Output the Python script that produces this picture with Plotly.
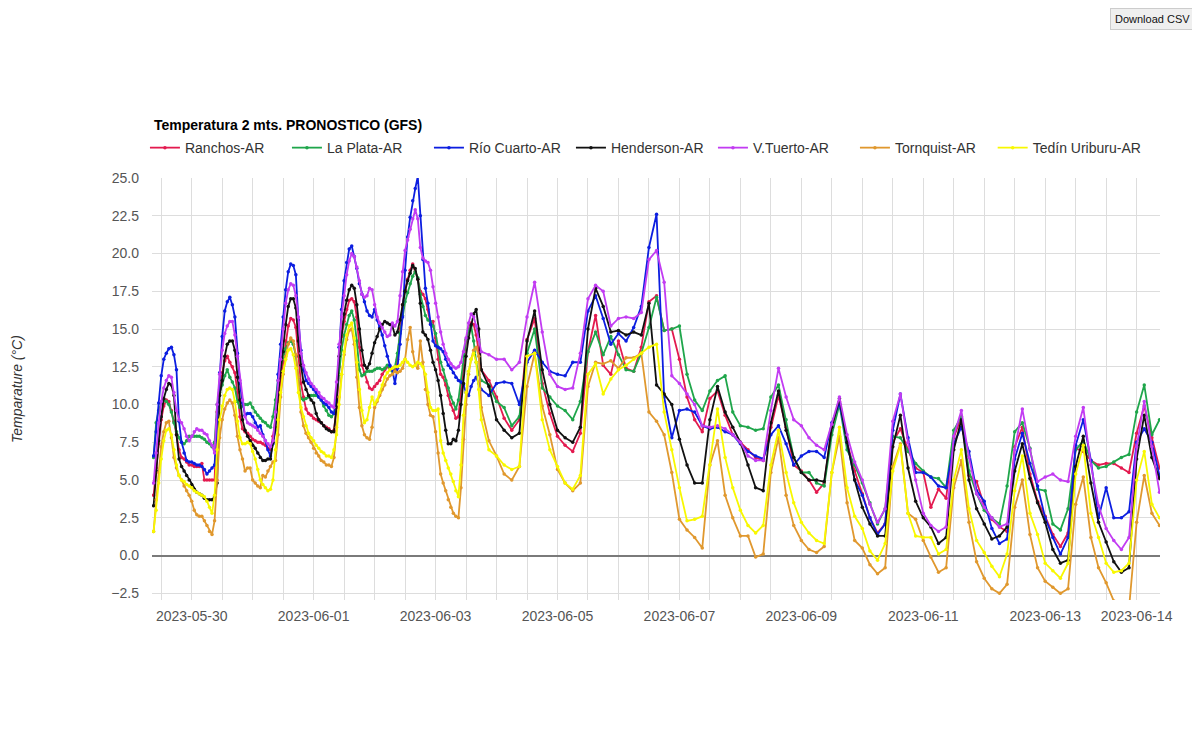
import plotly.graph_objects as go
import pandas as pd

# ---------------- data ----------------
start = pd.Timestamp("2023-05-29 09:00")
hours = list(range(0, 130)) + list(range(132, 397, 3))
times = [start + pd.Timedelta(hours=h) for h in hours]

series_names = ["Ranchos-AR", "La Plata-AR", "Río Cuarto-AR", "Henderson-AR",
                "V.Tuerto-AR", "Tornquist-AR", "Tedín Uriburu-AR"]
series_colors = ["#e31a4f", "#1fa64b", "#0c1ee0", "#111111",
                 "#c23cf2", "#e0982e", "#f8f800"]

# hourly part (t = 0..129 h)
ranchos_h = [4.0, 5.8, 7.4, 9.0, 9.9, 10.3, 10.2, 9.6, 8.9, 8.0,
             7.0, 6.5, 6.4, 6.2, 6.0, 6.0, 5.9, 5.9, 5.9, 6.1,
             5.0, 5.0, 5.0, 5.0, 5.0, 9.5, 11.0, 12.1, 12.9, 13.2,
             12.8, 12.5, 12.1, 10.8, 9.2, 8.4, 8.2, 8.1, 7.9, 7.7,
             7.6, 7.5, 7.5, 7.4, 7.3, 7.1, 7.0, 7.9, 9.0, 10.2,
             11.5, 12.8, 14.2, 15.2, 15.7, 15.6, 15.1, 13.2, 11.4, 10.5,
             9.7, 9.4, 9.3, 9.1, 9.0, 8.9, 8.8, 8.6, 8.5, 8.4,
             8.2, 8.3, 9.8, 12.5, 14.5, 15.5, 16.3, 16.9, 17.0, 16.8,
             15.8, 13.8, 12.6, 12.1, 11.5, 11.1, 11.0, 11.2, 11.4, 11.6,
             12.0, 12.3, 12.5, 12.5, 12.4, 12.3, 13.0, 15.0, 16.6, 17.6,
             18.3, 18.9, 19.3, 18.8, 18.3, 17.5, 17.3, 17.0, 16.3, 15.4,
             15.5, 14.4, 13.0, 12.0, 11.8, 11.3, 10.6, 10.0, 9.6, 9.1,
             9.2, 11.0, 12.6, 14.2, 15.0, 15.4, 15.3, 14.6, 13.5, 12.3]
laplata_h = [6.5, 8.8, 9.6, 10.1, 10.3, 10.2, 10.0, 9.5, 8.8, 8.2,
             7.8, 7.5, 7.4, 7.6, 7.9, 7.9, 7.9, 7.9, 7.9, 7.8,
             7.7, 7.5, 7.4, 7.2, 7.5, 10.0, 10.8, 11.3, 11.9, 12.3,
             11.8, 11.5, 11.1, 10.2, 9.8, 9.9, 10.0, 10.0, 10.1, 9.8,
             9.5, 9.3, 9.1, 8.9, 8.8, 8.6, 8.5, 9.2, 10.3, 11.6,
             12.5, 13.2, 13.7, 14.1, 14.2, 14.0, 13.2, 11.8, 10.4, 10.3,
             10.4, 10.5, 10.6, 10.6, 10.6, 10.5, 10.3, 9.9, 9.6, 9.3,
             9.2, 9.4, 10.5, 12.0, 13.6, 14.6, 15.3, 15.9, 16.2, 15.6,
             14.2, 12.3, 11.9, 12.0, 12.2, 12.2, 12.2, 12.3, 12.4, 12.4,
             12.3, 12.4, 12.6, 12.4, 12.2, 12.5, 13.4, 14.7, 15.9, 16.8,
             17.4, 18.0, 18.5, 18.8, 18.4, 17.3, 16.5, 15.9, 15.6, 15.5,
             15.2, 14.7, 13.8, 12.8, 12.3, 11.6, 11.1, 10.5, 10.1, 9.7,
             10.3, 11.6, 13.2, 14.3, 14.9, 15.2, 14.2, 12.8, 12.0, 11.6]
riocuarto_h = [6.6, 8.2, 10.1, 11.9, 13.0, 13.4, 13.7, 13.8, 13.3, 12.3,
               8.9, 7.5, 6.8, 6.3, 6.2, 6.2, 6.1, 6.0, 6.0, 5.9,
               5.7, 5.4, 5.6, 5.8, 6.0, 9.0, 12.1, 14.5, 16.2, 16.8,
               17.1, 16.6, 15.8, 13.4, 11.4, 10.1, 9.3, 9.4, 9.4, 9.2,
               8.8, 8.5, 8.6, 8.0, 7.6, 7.0, 6.6, 7.4, 8.3, 12.0,
               14.0, 15.8, 17.6, 18.8, 19.3, 19.2, 18.6, 15.6, 13.6, 12.3,
               11.6, 11.4, 11.2, 11.0, 10.8, 10.5, 10.3, 10.1, 10.0, 9.8,
               9.5, 9.4, 10.3, 13.8, 16.3, 18.2, 19.4, 20.3, 20.5, 19.8,
               19.0, 18.0, 17.3, 16.8, 16.2, 15.9, 15.8, 16.3, 15.6, 15.1,
               14.6, 13.9, 13.2, 12.6, 12.3, 11.4, 12.4, 14.0, 15.8, 18.9,
               21.1, 22.4, 23.5, 24.3, 25.1, 22.5, 19.6, 17.7, 16.7, 15.3,
               14.2, 13.9, 13.8, 13.7, 13.5, 13.0, 12.6, 12.4, 12.1, 11.8,
               11.6, 11.5, 11.3, 10.8, 10.6, 11.2, 11.6, 11.8, 11.4, 11.0]
henderson_h = [3.3, 5.6, 7.6, 9.2, 10.4, 11.0, 11.4, 11.3, 10.6, 8.0,
               6.4, 5.9, 5.6, 5.3, 5.0, 4.7, 4.4, 4.2, 4.1, 4.0,
               3.8, 3.7, 3.7, 3.7, 3.9, 4.8, 10.6, 11.6, 13.2, 14.0,
               14.2, 14.2, 13.6, 11.8, 10.3, 9.0, 8.3, 7.9, 7.6, 7.3,
               7.1, 6.8, 6.5, 6.3, 6.3, 6.4, 6.4, 7.5, 8.5, 10.6,
               12.2, 13.5, 15.3, 16.5, 17.0, 17.0, 16.4, 14.2, 12.6, 11.5,
               11.0, 10.6, 10.3, 10.1, 9.4, 9.0, 8.8, 8.6, 8.4, 8.3,
               8.2, 8.2, 9.8, 13.2, 14.8, 16.0, 16.9, 17.6, 17.9, 17.7,
               16.6, 15.0, 13.6, 12.6, 12.4, 12.7, 13.4, 14.1, 14.5, 15.0,
               15.3, 15.5, 15.4, 15.3, 15.2, 14.6, 14.8, 15.6, 16.6, 17.5,
               18.2, 18.7, 19.2, 19.0, 18.3, 16.7, 14.8, 14.6, 14.3, 13.6,
               12.8, 12.3, 11.6, 10.6, 9.4, 8.3, 7.4, 7.4, 7.7, 7.6,
               8.3, 10.0, 11.4, 13.2, 14.4, 15.3, 16.0, 16.3, 15.0, 12.3]
vtuerto_h = [4.8, 6.8, 8.8, 10.2, 11.1, 11.6, 11.9, 11.8, 10.8, 9.6,
             9.0, 8.8, 8.4, 7.9, 7.6, 7.9, 8.2, 8.4, 8.3, 8.3,
             8.1, 8.0, 7.6, 7.3, 6.8, 10.0, 12.0, 13.6, 14.7, 15.2,
             15.5, 15.5, 14.6, 13.2, 11.6, 10.3, 9.2, 8.8, 8.7, 8.6,
             8.5, 8.3, 8.1, 7.9, 7.6, 7.4, 7.2, 7.6, 9.5, 11.6,
             13.0, 15.0, 16.7, 17.6, 18.0, 17.9, 17.2, 15.8, 13.4, 12.6,
             12.1, 11.7, 11.4, 11.2, 11.0, 10.8, 10.5, 10.4, 10.2, 10.1,
             9.9, 9.8, 11.5, 14.0, 15.8, 17.2, 18.6, 19.5, 20.0, 19.8,
             19.1, 18.2, 17.3, 17.1, 17.2, 17.7, 17.6, 16.6, 15.8, 15.4,
             15.1, 14.8, 14.5, 14.6, 15.4, 15.2, 15.5, 17.2, 18.8, 20.2,
             20.9, 21.6, 22.3, 22.9, 22.3, 20.4, 19.7, 19.5, 19.4, 18.9,
             17.8, 16.7, 15.8, 14.8, 14.0, 13.4, 13.0, 12.7, 12.5, 12.4,
             12.5, 12.8, 13.5, 14.4, 15.4, 16.0, 15.8, 15.2, 14.3, 13.5]
tornquist_h = [1.6, 3.7, 5.5, 7.2, 8.2, 8.8, 8.9, 7.8, 6.5, 5.8,
               5.3, 5.0, 4.6, 4.3, 4.0, 3.6, 3.0, 2.7, 2.6, 2.6,
               2.3, 2.0, 1.6, 1.4, 2.3, 5.0, 7.8, 9.0, 9.7, 10.1,
               10.3, 10.1, 9.3, 7.9, 7.0, 6.4, 5.6, 5.8, 5.8, 5.0,
               4.8, 4.6, 4.5, 5.3, 5.2, 5.6, 5.9, 6.2, 6.3, 8.0,
               10.5, 12.0, 13.2, 14.0, 14.4, 14.2, 13.3, 11.8, 9.5, 8.6,
               8.1, 7.8, 7.5, 7.1, 6.8, 6.6, 6.3, 6.2, 6.0, 6.0,
               5.9, 6.5, 8.5, 10.5, 12.0, 13.3, 14.3, 14.9, 15.0, 14.0,
               11.8, 9.8, 8.6, 8.0, 7.8, 7.7, 8.5, 9.8, 10.2, 10.6,
               11.0, 11.3, 11.7, 11.9, 12.0, 12.2, 12.1, 12.2, 12.4, 13.0,
               14.3, 15.1, 13.5, 12.6, 12.4, 14.2, 12.8, 11.0, 10.0, 9.3,
               9.2, 8.2, 6.8, 5.4, 4.8, 4.3, 3.7, 3.2, 2.8, 2.6,
               2.5, 4.5, 7.7, 10.0, 12.0, 13.0, 13.6, 13.8, 13.2, 9.8]
tedin_h = [1.6, 3.0, 4.8, 6.4, 7.6, 8.3, 8.4, 8.0, 7.0, 6.0,
           5.3, 5.0, 4.9, 4.7, 4.6, 4.5, 4.3, 4.2, 4.1, 4.0,
           3.9, 3.6, 3.2, 2.8, 4.0, 7.0, 9.0, 9.9, 10.6, 11.0,
           11.1, 11.0, 10.2, 8.9, 7.8, 7.4, 7.4, 7.5, 7.4, 6.9,
           6.4, 5.7, 5.0, 4.7, 4.5, 4.3, 4.4, 5.0, 7.0, 9.0,
           10.8, 12.2, 13.0, 13.6, 13.7, 13.3, 12.4, 10.8, 9.8, 9.2,
           8.6, 8.1, 7.8, 7.6, 7.3, 7.1, 6.9, 6.8, 6.6, 6.6,
           6.5, 7.0, 8.0, 10.0, 12.0, 13.5, 14.6, 15.2, 15.4, 14.4,
           12.8, 11.0, 9.6, 8.8, 9.0, 9.8, 10.5, 10.0, 10.3, 10.8,
           11.3, 11.8, 12.1, 12.3, 12.4, 12.5, 12.5, 12.6, 12.8, 13.0,
           12.8, 12.6, 12.5, 12.6, 12.8, 12.7, 12.5, 12.0, 10.8, 9.8,
           9.6, 9.6, 9.7, 7.6, 6.8, 6.3, 5.8, 5.4, 4.9, 4.3,
           3.9, 6.0, 9.3, 10.8, 12.2, 13.0, 13.4, 12.8, 11.0, 9.0]

# 3-hourly part (t = 132..396 h)
ranchos_3h = [11.6, 10.5, 9.1, 8.3, 9.0, 14.3, 15.7, 11.4, 9.4, 7.9,
              7.3, 6.9, 8.1, 13.5, 15.9, 12.6, 12.0, 14.2, 12.4, 12.2,
              13.8, 16.8, 17.2, 14.9, 15.0, 13.0, 10.5, 9.0, 8.2, 10.4,
              10.9, 9.3, 8.0, 7.5, 7.0, 6.5, 6.3, 8.5, 10.6, 8.5,
              6.0, 5.6, 5.0, 4.2, 4.8, 8.5, 10.2, 7.5, 5.6, 4.1,
              2.5, 1.5, 2.1, 7.5, 8.4, 7.0, 5.8, 5.5, 3.2, 4.4,
              3.8, 7.8, 9.2, 5.3, 4.9, 3.3, 2.4, 1.9, 1.6, 7.2,
              8.5, 5.4, 3.6, 2.6, 1.4, 0.6, 1.5, 7.1, 6.9, 6.3,
              6.0, 6.1, 6.1, 5.8, 5.5, 8.1, 9.9, 7.8, 5.8]
laplata_3h = [11.3, 10.2, 9.8, 8.6, 9.2, 13.4, 15.0, 11.1, 10.5, 9.9,
              9.6, 9.0, 10.2, 13.5, 14.8, 13.3, 14.5, 13.3, 12.3, 12.2,
              13.4, 15.1, 17.1, 14.9, 15.0, 15.2, 12.0, 10.3, 9.6, 10.9,
              11.6, 11.9, 9.5, 8.6, 8.5, 8.3, 8.4, 10.5, 11.3, 9.0,
              6.5, 5.5, 5.5, 4.8, 4.6, 8.0, 10.0, 7.0, 6.0, 4.8,
              3.5, 2.1, 3.1, 7.9, 7.8, 6.9, 6.1, 5.6, 5.2, 5.1,
              4.5, 8.3, 9.2, 5.6, 4.1, 3.0, 2.5, 2.1, 4.6, 8.2,
              8.8, 7.1, 4.4, 4.3, 2.1, 1.7, 3.1, 7.0, 7.6, 6.3,
              5.8, 5.9, 6.2, 6.5, 6.7, 9.5, 11.3, 8.0, 9.0]
riocuarto_3h = [10.6, 11.4, 11.5, 11.4, 10.0, 12.8, 13.6, 12.8, 12.2, 12.0,
                11.9, 12.8, 12.8, 16.2, 17.2, 15.7, 14.0, 14.7, 14.2, 15.1,
                16.5, 20.4, 22.6, 10.5, 7.8, 9.6, 9.7, 9.5, 8.6, 8.4,
                8.5, 8.2, 8.0, 7.4, 6.9, 6.6, 6.4, 8.0, 8.6, 7.4,
                6.0, 6.6, 6.9, 6.9, 6.5, 8.8, 10.1, 7.5, 5.0, 4.0,
                2.5, 1.4, 2.1, 8.3, 10.7, 7.8, 5.5, 5.5, 5.2, 4.6,
                4.5, 7.4, 8.5, 6.9, 4.3, 3.6, 1.8, 0.8, 1.1, 6.4,
                8.1, 6.1, 4.6, 2.5, 1.2, 0.1, 1.2, 7.3, 9.0, 6.3,
                2.5, 4.5, 2.5, 2.5, 2.9, 7.5, 8.4, 7.5, 5.3]
henderson_3h = [11.2, 9.0, 8.3, 7.8, 8.1, 14.2, 16.2, 12.3, 10.0, 8.3,
                7.8, 7.5, 8.5, 15.0, 17.7, 16.5, 14.8, 14.9, 14.6, 14.8,
                14.6, 16.7, 11.3, 10.7, 10.0, 7.7, 6.0, 4.8, 4.8, 9.0,
                11.2, 9.5, 8.5, 7.5, 6.0, 4.5, 4.3, 8.8, 10.9, 8.3,
                6.5, 5.5, 5.0, 5.0, 4.9, 8.5, 10.4, 7.5, 5.0, 3.2,
                2.1, 1.3, 1.3, 7.2, 9.3, 5.8, 3.6, 2.5, 1.9, 0.8,
                1.2, 7.0, 9.0, 5.0, 3.1, 2.1, 1.1, 1.3, 1.9, 5.6,
                7.4, 5.1, 3.5, 2.2, 0.4, -0.5, -0.3, 5.9, 7.9, 4.8,
                2.2, 0.9, -0.4, -1.1, -0.8, 6.4, 9.3, 6.5, 5.1]
vtuerto_3h = [13.3, 13.0, 13.0, 12.3, 12.8, 15.8, 18.1, 14.8, 12.0, 11.2,
              11.0, 11.1, 13.4, 17.0, 17.9, 17.5, 15.2, 15.7, 15.8, 15.7,
              16.1, 19.6, 20.2, 18.1, 11.9, 11.4, 10.7, 10.0, 8.6, 8.5,
              8.6, 8.4, 8.0, 7.5, 6.6, 6.3, 6.3, 9.6, 12.4, 10.5,
              9.0, 8.6, 7.8, 7.3, 7.0, 8.7, 10.5, 8.0, 6.2, 5.0,
              3.4, 2.2, 3.1, 8.9, 10.7, 7.5, 5.0, 2.8, 2.0, 1.6,
              1.9, 7.9, 9.6, 6.5, 4.1, 3.2, 2.5, 1.9, 2.1, 7.0,
              9.7, 7.0, 4.9, 5.2, 5.4, 5.0, 4.9, 7.9, 9.8, 6.0,
              3.3, 1.8, 1.0, 0.4, 1.2, 7.2, 10.2, 7.2, 4.2]
tornquist_3h = [7.6, 6.6, 5.4, 5.0, 5.9, 11.2, 13.4, 9.9, 8.0, 5.7,
                4.8, 4.3, 4.8, 11.2, 12.8, 12.7, 12.9, 12.4, 13.1, 13.1,
                13.4, 9.5, 8.9, 8.0, 5.5, 2.4, 1.7, 1.2, 0.5, 6.0,
                7.6, 4.0, 2.5, 1.3, 1.3, -0.1, 0.1, 5.5, 7.8, 4.0,
                2.0, 1.0, 0.4, 0.2, 0.6, 5.5, 7.9, 3.5, 1.0, 0.5,
                -0.6, -1.2, -0.8, 5.9, 7.4, 2.8, 2.4, 1.0, -0.1, -1.1,
                -0.8, 4.5, 6.3, 2.2, -0.4, -1.5, -2.2, -2.5, -1.9, 3.2,
                5.0, 1.4, -0.8, -1.7, -2.1, -2.5, -2.2, 3.4, 5.2, 1.2,
                -0.8, -1.8, -3.0, -3.8, -3.5, 2.2, 5.3, 2.8, 2.0]
tedin_3h = [7.0, 6.6, 6.0, 5.7, 5.9, 13.2, 13.4, 9.0, 7.0, 5.9,
            4.8, 4.4, 5.3, 12.0, 12.7, 10.7, 11.7, 12.3, 12.6, 13.0,
            13.4, 13.8, 14.0, 9.5, 7.0, 4.5, 2.3, 2.4, 2.6, 6.0,
            9.7, 6.5, 4.5, 3.0, 2.0, 1.5, 2.0, 6.0, 8.3, 5.5,
            3.5, 2.2, 1.5, 1.0, 0.8, 5.5, 8.5, 4.5, 2.6, 1.8,
            0.3, -0.3, 0.8, 5.6, 7.3, 2.8, 1.3, 1.2, 1.2, 0.1,
            0.4, 5.0, 7.0, 3.1, 1.0, 0.2, -0.7, -1.4, 0.1, 4.3,
            6.6, 2.8, 1.4, -0.5, -1.0, -1.5, -0.5, 5.4, 7.3, 2.8,
            1.2, -0.5, -1.1, -1.0, -0.5, 5.0, 6.9, 3.4, 2.5]

series_values = [ranchos_h + ranchos_3h, laplata_h + laplata_3h,
                 riocuarto_h + riocuarto_3h, henderson_h + henderson_3h,
                 vtuerto_h + vtuerto_3h, tornquist_h + tornquist_3h,
                 tedin_h + tedin_3h]
legend_groups = ["legend", "legend", "legend", "legend", "legend", "legend", "legend2"]

# x-axis tick labels (grid every 12 h, labels every 2 days + last one)
grid_times = [pd.Timestamp("2023-05-29 12:00") + pd.Timedelta(hours=12 * k) for k in range(33)]
label_map = {pd.Timestamp("2023-05-30"): "2023-05-30", pd.Timestamp("2023-06-01"): "2023-06-01",
             pd.Timestamp("2023-06-03"): "2023-06-03", pd.Timestamp("2023-06-05"): "2023-06-05",
             pd.Timestamp("2023-06-07"): "2023-06-07", pd.Timestamp("2023-06-09"): "2023-06-09",
             pd.Timestamp("2023-06-11"): "2023-06-11", pd.Timestamp("2023-06-13"): "2023-06-13",
             pd.Timestamp("2023-06-14 12:00"): "2023-06-14"}
grid_text = [label_map.get(g, "") for g in grid_times]

y_ticks = [-2.5, 0.0, 2.5, 5.0, 7.5, 10.0, 12.5, 15.0, 17.5, 20.0, 22.5, 25.0]

# ---------------- figure ----------------
FONT = "Arial, 'Liberation Sans', sans-serif"
fig = go.Figure()
for name, color, vals, lg in zip(series_names, series_colors, series_values, legend_groups):
    fig.add_trace(go.Scatter(
        x=times, y=vals, name=name, mode="lines+markers",
        line=dict(color=color, width=1.8),
        marker=dict(color=color, size=3.5),
        legend=lg,
    ))

legend_common = dict(orientation="h", xanchor="left", y=1.071, yanchor="middle",
                     font=dict(family=FONT, size=14, color="#333"),
                     itemwidth=30, bgcolor="rgba(0,0,0,0)")

fig.update_layout(
    width=1184, height=718,
    margin=dict(l=144, r=32, t=170, b=126),
    paper_bgcolor="white", plot_bgcolor="white",
    font=dict(family=FONT, size=14, color="#333"),
    showlegend=True,
    legend=dict(x=-0.007, entrywidth=97, entrywidthmode="pixels", **legend_common),
    legend2=dict(x=0.834, **legend_common),
    xaxis=dict(type="date",
               range=[pd.Timestamp("2023-05-29 08:22"), pd.Timestamp("2023-06-14 21:12")],
               tickmode="array", tickvals=grid_times, ticktext=grid_text,
               showgrid=True, gridcolor="#dddddd", gridwidth=1,
               showline=False, zeroline=False, ticks="",
               tickfont=dict(family=FONT, size=14, color="#555"),
               ticklabelstandoff=6),
    yaxis=dict(range=[-2.94, 25.0], tickmode="array", tickvals=y_ticks,
               tickformat=".1f", showgrid=True, gridcolor="#dddddd", gridwidth=1,
               zeroline=True, zerolinecolor="#7a7a7a", zerolinewidth=2,
               showline=False, ticks="",
               tickfont=dict(family=FONT, size=14, color="#555"),
               ticklabelstandoff=12),
    hovermode="x",
)

fig.add_annotation(text="<b>Temperatura 2 mts. PRONOSTICO (GFS)</b>",
                   xref="paper", yref="paper", x=0.0, y=1.1256,
                   xanchor="left", yanchor="middle", showarrow=False,
                   font=dict(family=FONT, size=14, color="#000"))
fig.add_annotation(text="<i>Temparature (°C)</i>", textangle=-90,
                   xref="paper", yref="paper", x=-0.134, y=0.5,
                   xanchor="center", yanchor="middle", showarrow=False,
                   font=dict(family=FONT, size=14, color="#333"))
fig.add_annotation(text="Download CSV", xref="paper", yref="paper",
                   x=0.993, y=1.3768, xanchor="center", yanchor="middle",
                   showarrow=False, bgcolor="#efefef", bordercolor="#cccccc",
                   borderwidth=1, borderpad=4,
                   font=dict(family=FONT, size=11, color="#111"))

fig.write_html("out.html")
